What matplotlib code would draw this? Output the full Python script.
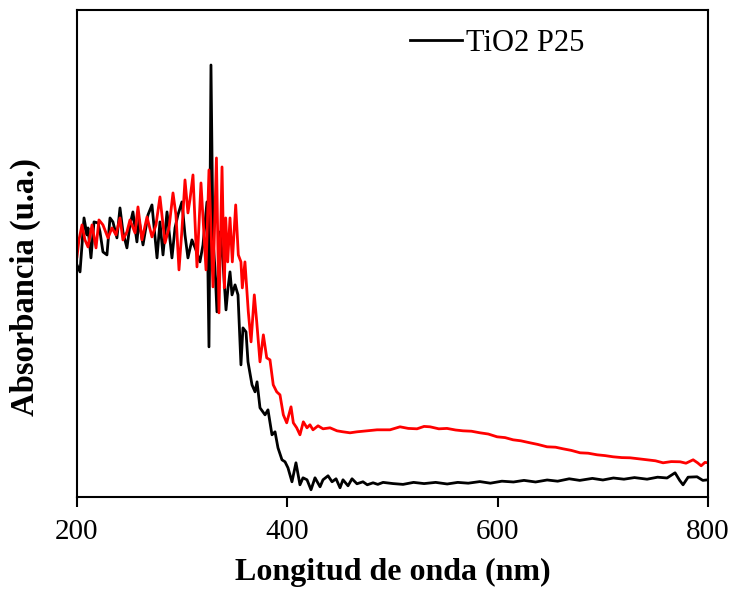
import matplotlib.pyplot as plt

# UV-vis absorbance spectra

# black curve: TiO2 P25
wl_p25 = [200.0, 202.9, 206.7, 209.5, 210.5, 213.3, 216.2, 220.0, 221.9, 224.7,
          228.5, 231.4, 234.2, 238.0, 240.9, 243.7, 247.5, 250.4, 253.2, 257.0,
          259.0, 262.8, 267.5, 271.3, 276.1, 278.9, 281.8, 285.6, 290.3, 293.2,
          296.0, 299.8, 302.7, 305.5, 309.3, 313.1, 316.9, 319.8, 323.6, 325.5,
          327.4, 329.3, 331.2, 333.1, 336.0, 338.8, 341.7, 343.6, 345.5, 347.4,
          350.3, 353.1, 355.9, 357.8, 360.7, 362.6, 366.4, 369.3, 371.2, 374.0,
          378.8, 381.6, 385.4, 388.3, 391.1, 394.9, 397.8, 400.6, 404.4, 408.2,
          412.0, 414.9, 418.7, 422.5, 426.3, 431.1, 433.9, 438.7, 442.5, 446.3,
          450.1, 452.9, 457.7, 461.5, 466.2, 471.9, 476.0, 481.5, 486.0, 491.0,
          500.5, 510.0, 520.0, 530.0, 541.0, 552.0, 562.0, 572.0, 583.0, 593.0,
          604.0, 615.0, 625.0, 636.0, 647.0, 657.0, 668.0, 678.0, 690.0, 700.0,
          710.0, 720.0, 730.0, 742.0, 752.0, 761.0, 768.6, 773.0, 776.2, 781.0,
          789.5, 795.0, 800.0]
abs_p25 = [1.160, 1.125, 1.395, 1.310, 1.345, 1.195, 1.375, 1.370, 1.325, 1.225,
           1.210, 1.395, 1.375, 1.295, 1.445, 1.325, 1.245, 1.360, 1.425, 1.275,
           1.385, 1.260, 1.410, 1.460, 1.195, 1.375, 1.210, 1.425, 1.195, 1.345,
           1.410, 1.475, 1.310, 1.195, 1.285, 1.235, 1.175, 1.260, 1.475, 0.750,
           2.160, 1.285, 1.145, 0.925, 1.325, 1.175, 0.935, 1.045, 1.125, 1.010,
           1.060, 1.010, 0.660, 0.845, 0.825, 0.675, 0.560, 0.525, 0.575, 0.445,
           0.410, 0.435, 0.310, 0.325, 0.245, 0.185, 0.175, 0.145, 0.075, 0.170,
           0.060, 0.095, 0.085, 0.035, 0.095, 0.050, 0.085, 0.105, 0.075, 0.090,
           0.045, 0.085, 0.055, 0.090, 0.065, 0.075, 0.060, 0.070, 0.062, 0.072,
           0.066, 0.062, 0.072, 0.066, 0.072, 0.064, 0.072, 0.068, 0.076, 0.068,
           0.078, 0.074, 0.082, 0.074, 0.084, 0.078, 0.090, 0.082, 0.092, 0.084,
           0.094, 0.088, 0.096, 0.088, 0.098, 0.094, 0.120, 0.082, 0.060, 0.098,
           0.100, 0.082, 0.085]

# red curve (no legend entry)
wl_red = [200.0, 201.9, 204.8, 207.6, 210.5, 214.3, 218.1, 220.9, 224.7, 229.5,
          233.3, 237.1, 240.9, 243.7, 247.5, 250.4, 255.2, 258.0, 261.8, 266.6,
          271.3, 275.1, 278.9, 283.7, 287.5, 291.3, 294.1, 297.0, 299.8, 302.7,
          305.5, 307.4, 310.3, 314.1, 317.9, 322.7, 325.5, 329.3, 332.6, 335.0,
          337.9, 340.1, 341.4, 343.3, 345.5, 347.7, 350.9, 353.4, 355.9, 357.2,
          359.7, 362.9, 365.5, 368.6, 370.9, 374.0, 377.2, 380.4, 383.5, 386.6,
          389.9, 393.0, 396.2, 399.4, 403.5, 405.7, 408.9, 412.0, 415.2, 418.7,
          421.5, 424.4, 429.2, 433.9, 440.6, 447.2, 452.9, 459.6, 466.2, 475.8,
          485.3, 497.6, 507.1, 515.0, 523.3, 530.0, 535.7, 544.0, 551.8, 560.0,
          567.0, 575.0, 583.2, 591.0, 599.4, 607.0, 614.6, 622.0, 630.7, 638.0,
          646.9, 655.0, 662.1, 670.0, 678.3, 686.0, 694.5, 702.0, 709.7, 718.0,
          725.8, 734.0, 742.0, 750.0, 757.2, 765.0, 773.4, 779.0, 785.8, 790.0,
          793.4, 797.0, 800.0]
abs_red = [1.200, 1.285, 1.360, 1.285, 1.250, 1.360, 1.245, 1.385, 1.360, 1.295,
           1.345, 1.310, 1.395, 1.285, 1.325, 1.385, 1.320, 1.450, 1.285, 1.400,
           1.300, 1.360, 1.500, 1.270, 1.345, 1.520, 1.410, 1.135, 1.335, 1.585,
           1.420, 1.485, 1.610, 1.150, 1.570, 1.135, 1.635, 1.050, 1.695, 0.920,
           1.650, 1.045, 1.395, 1.175, 1.395, 1.175, 1.460, 1.210, 1.175, 1.045,
           1.175, 0.925, 0.775, 1.010, 0.875, 0.675, 0.810, 0.695, 0.685, 0.560,
           0.525, 0.510, 0.410, 0.370, 0.450, 0.370, 0.345, 0.310, 0.375, 0.345,
           0.360, 0.335, 0.355, 0.340, 0.345, 0.330, 0.325, 0.320, 0.325, 0.330,
           0.335, 0.335, 0.350, 0.342, 0.340, 0.352, 0.350, 0.340, 0.342, 0.334,
           0.330, 0.328, 0.320, 0.314, 0.300, 0.296, 0.285, 0.280, 0.270, 0.262,
           0.250, 0.248, 0.240, 0.232, 0.220, 0.218, 0.210, 0.206, 0.200, 0.196,
           0.195, 0.190, 0.185, 0.180, 0.170, 0.176, 0.175, 0.168, 0.185, 0.170,
           0.155, 0.172, 0.170]

x_ticks = [200, 400, 600, 800]

plt.rcParams['font.family'] = ['Liberation Serif', 'DejaVu Serif']

fig = plt.figure(figsize=(7.33, 5.90), dpi=100)
ax = fig.add_axes([0.105, 0.158, 0.861, 0.825])

ax.plot(wl_p25, abs_p25, color='black', lw=2.0, label='TiO2 P25')
ax.plot(wl_red, abs_red, color='red', lw=2.0)

ax.set_xlim(200, 800)
ax.set_ylim(0, 2.435)
ax.set_xticks(x_ticks)
ax.set_yticks([])
ax.tick_params(axis='x', direction='out', length=7, width=1.5, labelsize=21, pad=9)
for s in ax.spines.values():
    s.set_linewidth(1.5)

ax.set_xlabel('Longitud de onda (nm)', fontsize=23, fontweight='bold', labelpad=9)
ax.set_ylabel('Absorbancia (u.a.)', fontsize=23.5, fontweight='bold')
ax.yaxis.set_label_coords(-0.057, 0.43)

ax.legend(loc='upper left', bbox_to_anchor=(0.528, 0.962), frameon=False,
          fontsize=22, handlelength=1.7, handletextpad=0.12,
          borderpad=0, borderaxespad=0)

fig.savefig('out.png', dpi=100)
